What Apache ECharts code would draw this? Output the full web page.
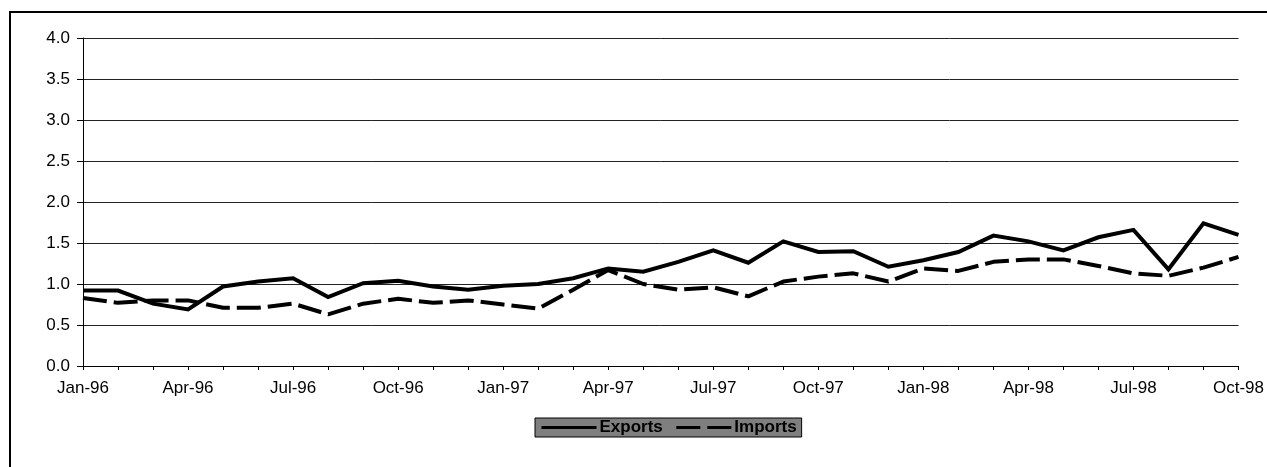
<!DOCTYPE html>
<html>
<head>
<meta charset="utf-8">
<script src="https://cdn.jsdelivr.net/npm/echarts@6/dist/echarts.min.js"></script>
<style>
html,body{margin:0;padding:0;background:#fff;}
#c{width:1267px;height:467px;}
</style>
</head>
<body>
<div id="c"></div>
<script>
const months = ['Jan-96','Feb-96','Mar-96','Apr-96','May-96','Jun-96','Jul-96','Aug-96','Sep-96','Oct-96','Nov-96','Dec-96',
  'Jan-97','Feb-97','Mar-97','Apr-97','May-97','Jun-97','Jul-97','Aug-97','Sep-97','Oct-97','Nov-97','Dec-97',
  'Jan-98','Feb-98','Mar-98','Apr-98','May-98','Jun-98','Jul-98','Aug-98','Sep-98','Oct-98'];
const exportsData = [0.92,0.92,0.76,0.69,0.97,1.03,1.07,0.84,1.01,1.04,0.97,0.93,
  0.98,1.00,1.07,1.19,1.15,1.27,1.41,1.26,1.52,1.39,1.40,1.21,
  1.29,1.39,1.59,1.52,1.41,1.57,1.66,1.18,1.74,1.60];
const importsData = [0.83,0.77,0.80,0.80,0.71,0.71,0.76,0.63,0.76,0.82,0.77,0.80,
  0.75,0.70,0.93,1.17,1.00,0.93,0.96,0.85,1.03,1.09,1.13,1.03,
  1.19,1.16,1.27,1.30,1.30,1.22,1.13,1.10,1.20,1.33];
const yTicks = {min:0, max:4, interval:0.5};

const chart = echarts.init(document.getElementById('c'), null, {renderer:'canvas'});
const font = 'Liberation Sans, Arial, sans-serif';
chart.setOption({
  animation:false,
  backgroundColor:'#fff',
  graphic:[{type:'rect', shape:{x:10,y:12,width:1275,height:470}, style:{fill:'none',stroke:'#000',lineWidth:2}, z:0}],
  grid:{left:83, right:28, top:38, bottom:101, containLabel:false},
  legend:{
    data:['Exports','Imports'],
    left:535, top:418,
    backgroundColor:'#7f7f7f',
    borderColor:'#000', borderWidth:1,
    padding:[1,5,1,5],
    itemGap:12,
    itemWidth:55, itemHeight:14,
    itemStyle:{opacity:0},
    lineStyle:{width:3},
    textStyle:{color:'#000', fontFamily:font, fontSize:17, fontWeight:'bold', padding:[0,0,0,-2]}
  },
  xAxis:{
    type:'category', data:months, boundaryGap:false,
    axisLine:{lineStyle:{color:'#000', width:1}},
    axisTick:{show:true, interval:0, length:4, lineStyle:{color:'#000'}},
    axisLabel:{interval:2, color:'#000', fontFamily:font, fontSize:17, margin:14},
    splitLine:{show:false}
  },
  yAxis:{
    type:'value', min:yTicks.min, max:yTicks.max, interval:yTicks.interval,
    axisLine:{show:true, lineStyle:{color:'#000', width:1}},
    axisTick:{show:true, length:6, lineStyle:{color:'#000'}},
    axisLabel:{color:'#000', fontFamily:font, fontSize:17, margin:13, formatter:v=>v.toFixed(1)},
    splitLine:{show:true, lineStyle:{color:'#222', width:1}}
  },
  series:[
    {name:'Exports', type:'line', data:exportsData, symbol:'none', showSymbol:false,
     lineStyle:{color:'#000', width:4, join:'miter'}, itemStyle:{color:'#000'}},
    {name:'Imports', type:'line', data:importsData, symbol:'none', showSymbol:false,
     lineStyle:{color:'#000', width:4, type:[24,7]}, itemStyle:{color:'#000'}}
  ]
});
</script>
</body>
</html>
